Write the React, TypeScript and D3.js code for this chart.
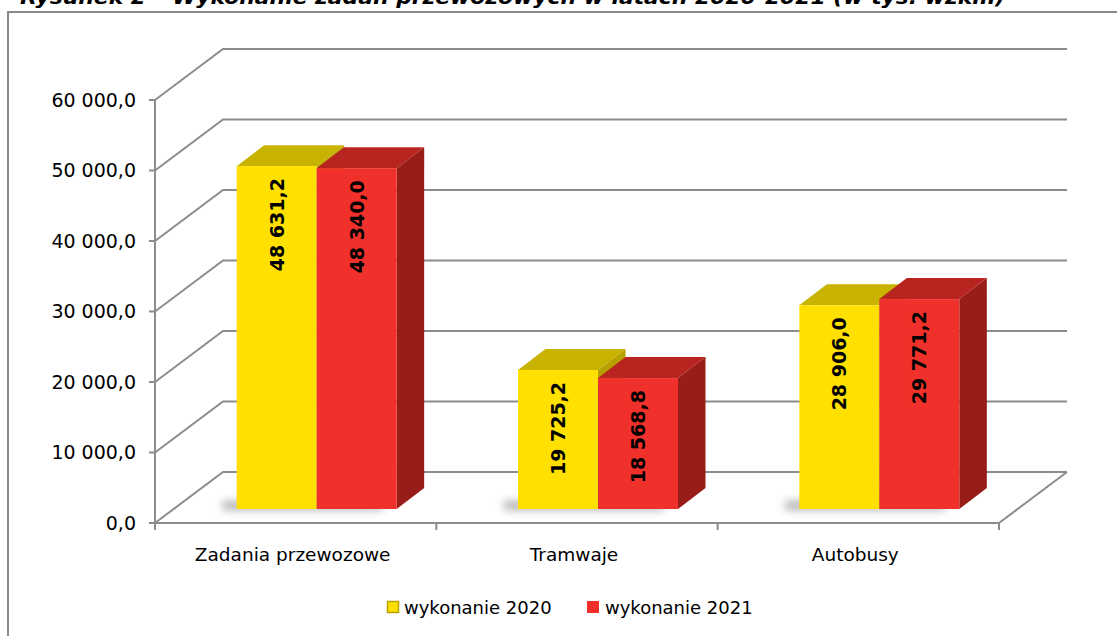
import React from "react";
import * as d3 from "d3";

const TITLE = "Rysunek 2 – Wykonanie zadań przewozowych w latach 2020-2021 (w tys. wzkm)";
const categories = ["Zadania przewozowe", "Tramwaje", "Autobusy"];
const series2020 = [48631.2, 19725.2, 28906.0];
const series2021 = [48340.0, 18568.8, 29771.2];
const seriesNames = ["wykonanie 2020", "wykonanie 2021"];
const yTicks = [0, 10000, 20000, 30000, 40000, 50000, 60000];

const W = 1117;
const H = 636;

const fmt = d3
  .formatLocale({ decimal: ",", thousands: " ", grouping: [3], currency: ["", ""] })
  .format(",.1f");

const palettes = [
  { front: "#FFE000", top: "#C8B300", side: "#B8A000" },
  { front: "#F0302A", top: "#B8241F", side: "#981C17" },
];

export default function App() {
  const axisX = 155;
  const floorRight = 999;
  const depth = { dx: 68, dy: -51 };
  const y = d3.scaleLinear().domain([0, 60000]).range([523, 100]);
  const x = d3.scaleBand().domain(categories).range([axisX, floorRight]);
  const barShift = { dx: 21, dy: -14 };
  const barDepth = { dx: 27.5, dy: -21 };
  const barW = 80;
  const grid = "#8C8C8C";
  const series = [series2020, series2021];

  const wallLines = yTicks.map((t) => {
    const yf = y(t);
    const yb = yf + depth.dy;
    return `M${axisX},${yf}L${axisX + depth.dx},${yb}L${floorRight + depth.dx},${yb}`;
  });

  return (
    <div style={{ position: "absolute", left: 0, top: 0 }}>
      <svg width={W} height={H} style={{ display: "block" }} fontFamily="DejaVu Sans, Verdana, sans-serif">
        <defs>
          <filter id="shadow" x="-50%" y="-300%" width="200%" height="700%">
            <feGaussianBlur stdDeviation="4" />
          </filter>
        </defs>
        <rect width={W} height={H} fill="#fff" />
        <text
          x={20}
          y={4}
          fontSize={19}
          fontWeight="bold"
          fontStyle="italic"
          textLength={985}
          lengthAdjust="spacingAndGlyphs"
          fill="#000"
        >
          {TITLE}
        </text>
        <rect x={8} y={12} width={W + 20} height={H + 20} fill="none" stroke="#8A8A8A" strokeWidth={2} />

        {/* walls and floor */}
        {wallLines.map((d, i) => (
          <path key={i} d={d} fill="none" stroke={grid} strokeWidth={2} />
        ))}
        <path
          d={`M${axisX},${y(0)}L${floorRight},${y(0)}L${floorRight + depth.dx},${y(0) + depth.dy}`}
          fill="none"
          stroke={grid}
          strokeWidth={2}
        />
        <line x1={axisX} x2={axisX} y1={y(60000)} y2={y(0)} stroke={grid} strokeWidth={2} />
        {yTicks.map((t) => (
          <g key={t}>
            <line x1={axisX - 6} x2={axisX} y1={y(t)} y2={y(t)} stroke={grid} strokeWidth={2} />
            <text x={axisX - 19} y={y(t)} dy="0.36em" textAnchor="end" fontSize={19} fill="#000">
              {fmt(t)}
            </text>
          </g>
        ))}
        {[...categories.map((c) => x(c) as number), floorRight].map((px, i) => (
          <line key={i} x1={px} x2={px} y1={y(0)} y2={y(0) + 7} stroke={grid} strokeWidth={2} />
        ))}
        {categories.map((c) => (
          <text
            key={c}
            x={(x(c) as number) + x.bandwidth() / 2 - 3}
            y={y(0) + 38}
            textAnchor="middle"
            fontSize={18.5}
            fill="#000"
          >
            {c}
          </text>
        ))}

        {/* shadows */}
        {categories.map((c) => {
          const cx = (x(c) as number) + x.bandwidth() / 2 + barShift.dx;
          const by = y(0) + barShift.dy;
          return (
            <rect
              key={c}
              x={cx - barW - 14}
              y={by - 8}
              width={barW * 2}
              height={9}
              fill="#555"
              opacity={0.45}
              filter="url(#shadow)"
            />
          );
        })}

        {/* bars */}
        {categories.map((c, ci) => {
          const cx = (x(c) as number) + x.bandwidth() / 2 + barShift.dx;
          const by = y(0) + barShift.dy;
          return (
            <g key={c}>
              {series.map((s, si) => {
                const v = s[ci];
                const x0 = cx - barW + si * barW;
                const x1 = x0 + barW;
                const ty = y(v) + barShift.dy;
                const p = palettes[si];
                const top = `M${x0},${ty}L${x1},${ty}L${x1 + barDepth.dx},${ty + barDepth.dy}L${x0 + barDepth.dx},${ty + barDepth.dy}Z`;
                const side = `M${x1},${ty}L${x1 + barDepth.dx},${ty + barDepth.dy}L${x1 + barDepth.dx},${by + barDepth.dy}L${x1},${by}Z`;
                return (
                  <g key={si}>
                    <path d={side} fill={p.side} />
                    <path d={top} fill={p.top} />
                    <rect x={x0} y={ty} width={barW} height={by - ty} fill={p.front} />
                    <text
                      transform={`translate(${x0 + barW / 2},${ty + 12}) rotate(-90)`}
                      textAnchor="end"
                      dy="0.36em"
                      fontSize={19}
                      fontWeight="bold"
                      fill="#000"
                    >
                      {fmt(v)}
                    </text>
                  </g>
                );
              })}
            </g>
          );
        })}

        {/* legend */}
        <g>
          <rect x={387.5} y={601.5} width={11} height={11} fill={palettes[0].front} stroke="#B8A200" strokeWidth={1.5} />
          <text x={404} y={614} fontSize={18} fill="#000">
            {seriesNames[0]}
          </text>
          <rect x={587} y={601} width={12} height={12} fill={palettes[1].front} />
          <text x={605} y={614} fontSize={18} fill="#000">
            {seriesNames[1]}
          </text>
        </g>
      </svg>
    </div>
  );
}
